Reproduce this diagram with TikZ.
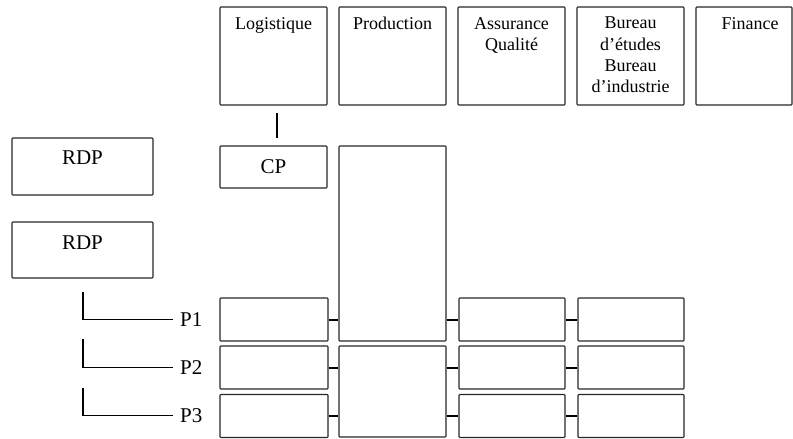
\documentclass[tikz,border=0pt]{standalone}
\usepackage{fontspec}
\setmainfont{Liberation Serif}
\begin{document}
\begin{tikzpicture}[x=1pt,y=-1pt,
  box/.style={draw=black!85, line width=1.1pt, inner sep=0pt, rounded corners=0.8pt},
  toplbl/.style={inner sep=0pt, anchor=north, align=center, font=\fontsize{18}{21.3}\selectfont},
  biglbl/.style={inner sep=0pt, font=\fontsize{21}{24}\selectfont},
  conn/.style={draw=black, line width=2pt},
  lline/.style={draw=black, line width=1.6pt}]
\useasboundingbox (0,0) rectangle (793,439);
% top row
\node[box, minimum width=107pt, minimum height=98pt] (log) at (273.5,56) {};
\node[box, minimum width=107pt, minimum height=98pt] (prod) at (392.5,56) {};
\node[box, minimum width=107pt, minimum height=98pt] (aq) at (511.5,56) {};
\node[box, minimum width=107pt, minimum height=98pt] (be) at (630.5,56) {};
\node[box, minimum width=96pt, minimum height=98pt] (fin) at (744,56) {};
\node[toplbl] (logT) at (273.5,17) {Logistique};
\node[toplbl] (prodT) at (392.5,17) {Production};
\node[toplbl] (aqT) at (511.5,17) {Assurance\\Qualité};
\node[toplbl] (beT) at (630.5,17) {Bureau\\d’études\\Bureau\\d’industrie};
\node[toplbl] (finT) at (750,17) {Finance};
% CP and tall production box
\node[box, minimum width=107pt, minimum height=42pt] (cp) at (273.5,167) {};
\node[biglbl] (cpT) at (273.5,167) {CP};
\draw[conn] ([xshift=3.5pt,yshift=-7pt]log.south) -- ([xshift=3.5pt,yshift=7pt]cp.north);
\node[box, minimum width=107pt, minimum height=195pt] (ptall) at (392.5,243.5) {};
\node[box, minimum width=107pt, minimum height=91pt] (pbot) at (392.5,391.5) {};
% RDP
\node[box, minimum width=141pt, minimum height=57pt] (rdp1) at (82.5,166.5) {};
\node[biglbl] (rdp1T) at (82.5,158) {RDP};
\node[box, minimum width=141pt, minimum height=56pt] (rdp2) at (82.5,250) {};
\node[biglbl] (rdp2T) at (82.5,243) {RDP};
% row boxes
\node[box, minimum width=108pt, minimum height=43pt] (l1) at (274,319.5) {};
\node[box, minimum width=108pt, minimum height=43pt] (l2) at (274,367.5) {};
\node[box, minimum width=108pt, minimum height=43pt] (l3) at (274,416) {};
\node[box, minimum width=106pt, minimum height=43pt] (a1) at (512,319.5) {};
\node[box, minimum width=106pt, minimum height=43pt] (a2) at (512,367.5) {};
\node[box, minimum width=106pt, minimum height=43pt] (a3) at (512,416) {};
\node[box, minimum width=106pt, minimum height=43pt] (b1) at (631,319.5) {};
\node[box, minimum width=106pt, minimum height=43pt] (b2) at (631,367.5) {};
\node[box, minimum width=106pt, minimum height=43pt] (b3) at (631,416) {};
% connectors
\draw[conn] (l1.east) -- (l1.east -| ptall.west);
\draw[conn] (l2.east) -- (l2.east -| pbot.west);
\draw[conn] (l3.east) -- (l3.east -| pbot.west);
\draw[conn] (a1.west -| ptall.east) -- (a1.west);
\draw[conn] (a2.west -| pbot.east) -- (a2.west);
\draw[conn] (a3.west -| pbot.east) -- (a3.west);
\draw[conn] (a1.east) -- (b1.west);
\draw[conn] (a2.east) -- (b2.west);
\draw[conn] (a3.east) -- (b3.west);
% P labels
\node[biglbl, anchor=west] (p1) at (180,319.5) {P1};
\node[biglbl, anchor=west] (p2) at (180,367.5) {P2};
\node[biglbl, anchor=west] (p3) at (180,415.5) {P3};
\coordinate (c1) at (83,292);
\coordinate (c2) at (83,339);
\coordinate (c3) at (83,388);
\draw[lline, shorten >=7pt] (c1) |- (p1.west);
\draw[lline, shorten >=7pt] (c2) |- (p2.west);
\draw[lline, shorten >=7pt] (c3) |- (p3.west);
\end{tikzpicture}
\end{document}
